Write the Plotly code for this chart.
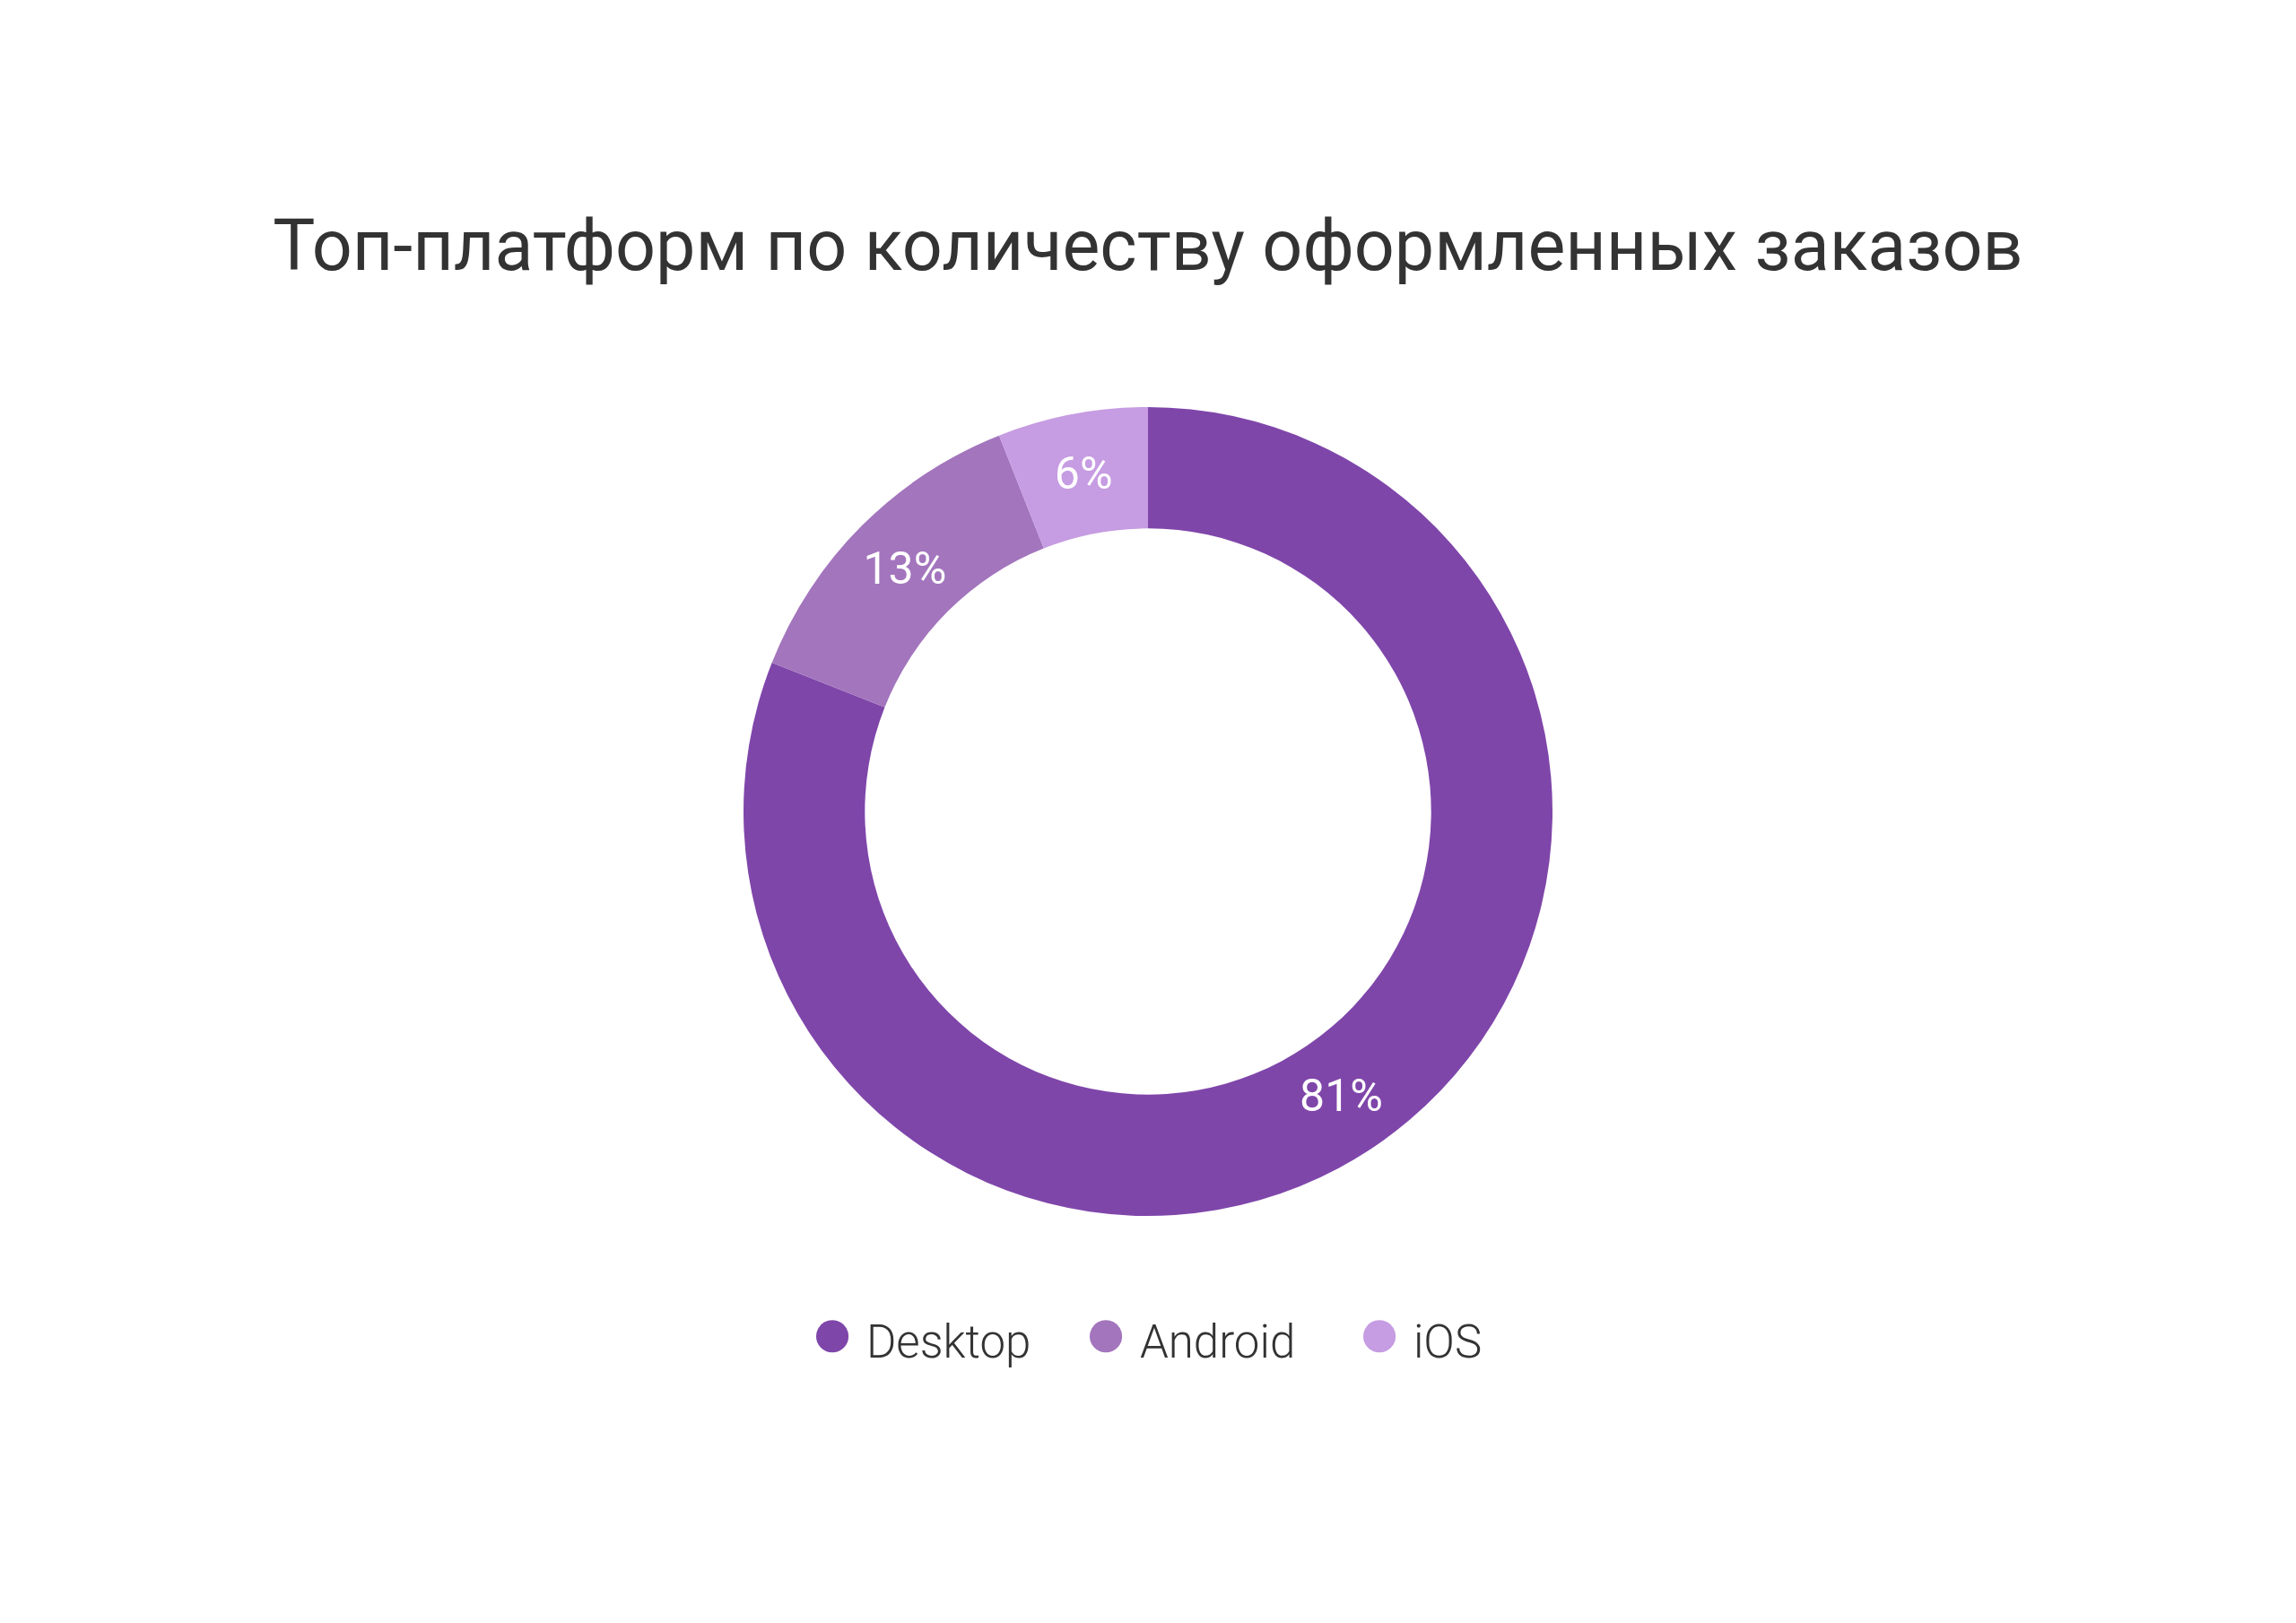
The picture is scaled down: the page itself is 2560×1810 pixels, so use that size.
import plotly.graph_objects as go

categories = ["Desktop", "Android", "iOS"]
values = [81, 13, 6]
colors = ["#7F46AA", "#A375BD", "#C69CE2"]
title_text = "Топ-платформ по количеству оформленных заказов"

fig = go.Figure()
fig.add_trace(go.Pie(
    labels=categories, values=values, sort=False, direction="clockwise", rotation=0,
    hole=0.7, marker=dict(colors=colors, line=dict(width=0)),
    textinfo="percent", textposition="inside", insidetextorientation="horizontal",
    textfont=dict(family="Roboto", size=50, color="white"),
    showlegend=False, hoverinfo="label+percent",
))
for name, col in zip(categories, colors):
    fig.add_trace(go.Scatter(
        x=[None], y=[None], mode="markers",
        marker=dict(size=0, color="rgba(0,0,0,0)", line=dict(width=0)),
        name=f"<span style='color:{col};font-size:84px'>●</span>&nbsp;{name}",
        showlegend=True,
    ))

fig.update_layout(
    width=2560, height=1810,
    margin=dict(t=454, b=454, l=0, r=0),
    paper_bgcolor="white", plot_bgcolor="white",
    title=dict(text=title_text, x=0.5, xanchor="center", y=1 - 273 / 1810, yref="container",
               yanchor="middle", font=dict(family="Roboto", size=79, color="#333333")),
    xaxis=dict(visible=False), yaxis=dict(visible=False),
    legend=dict(orientation="h", x=0.337, xanchor="left", y=1 - 1494 / 1810, yref="container",
                yanchor="middle", font=dict(family="Roboto", size=51, color="#333333", weight=300),
                itemwidth=30, entrywidth=260, bgcolor="rgba(0,0,0,0)"),
)
fig.write_html("out.html")
